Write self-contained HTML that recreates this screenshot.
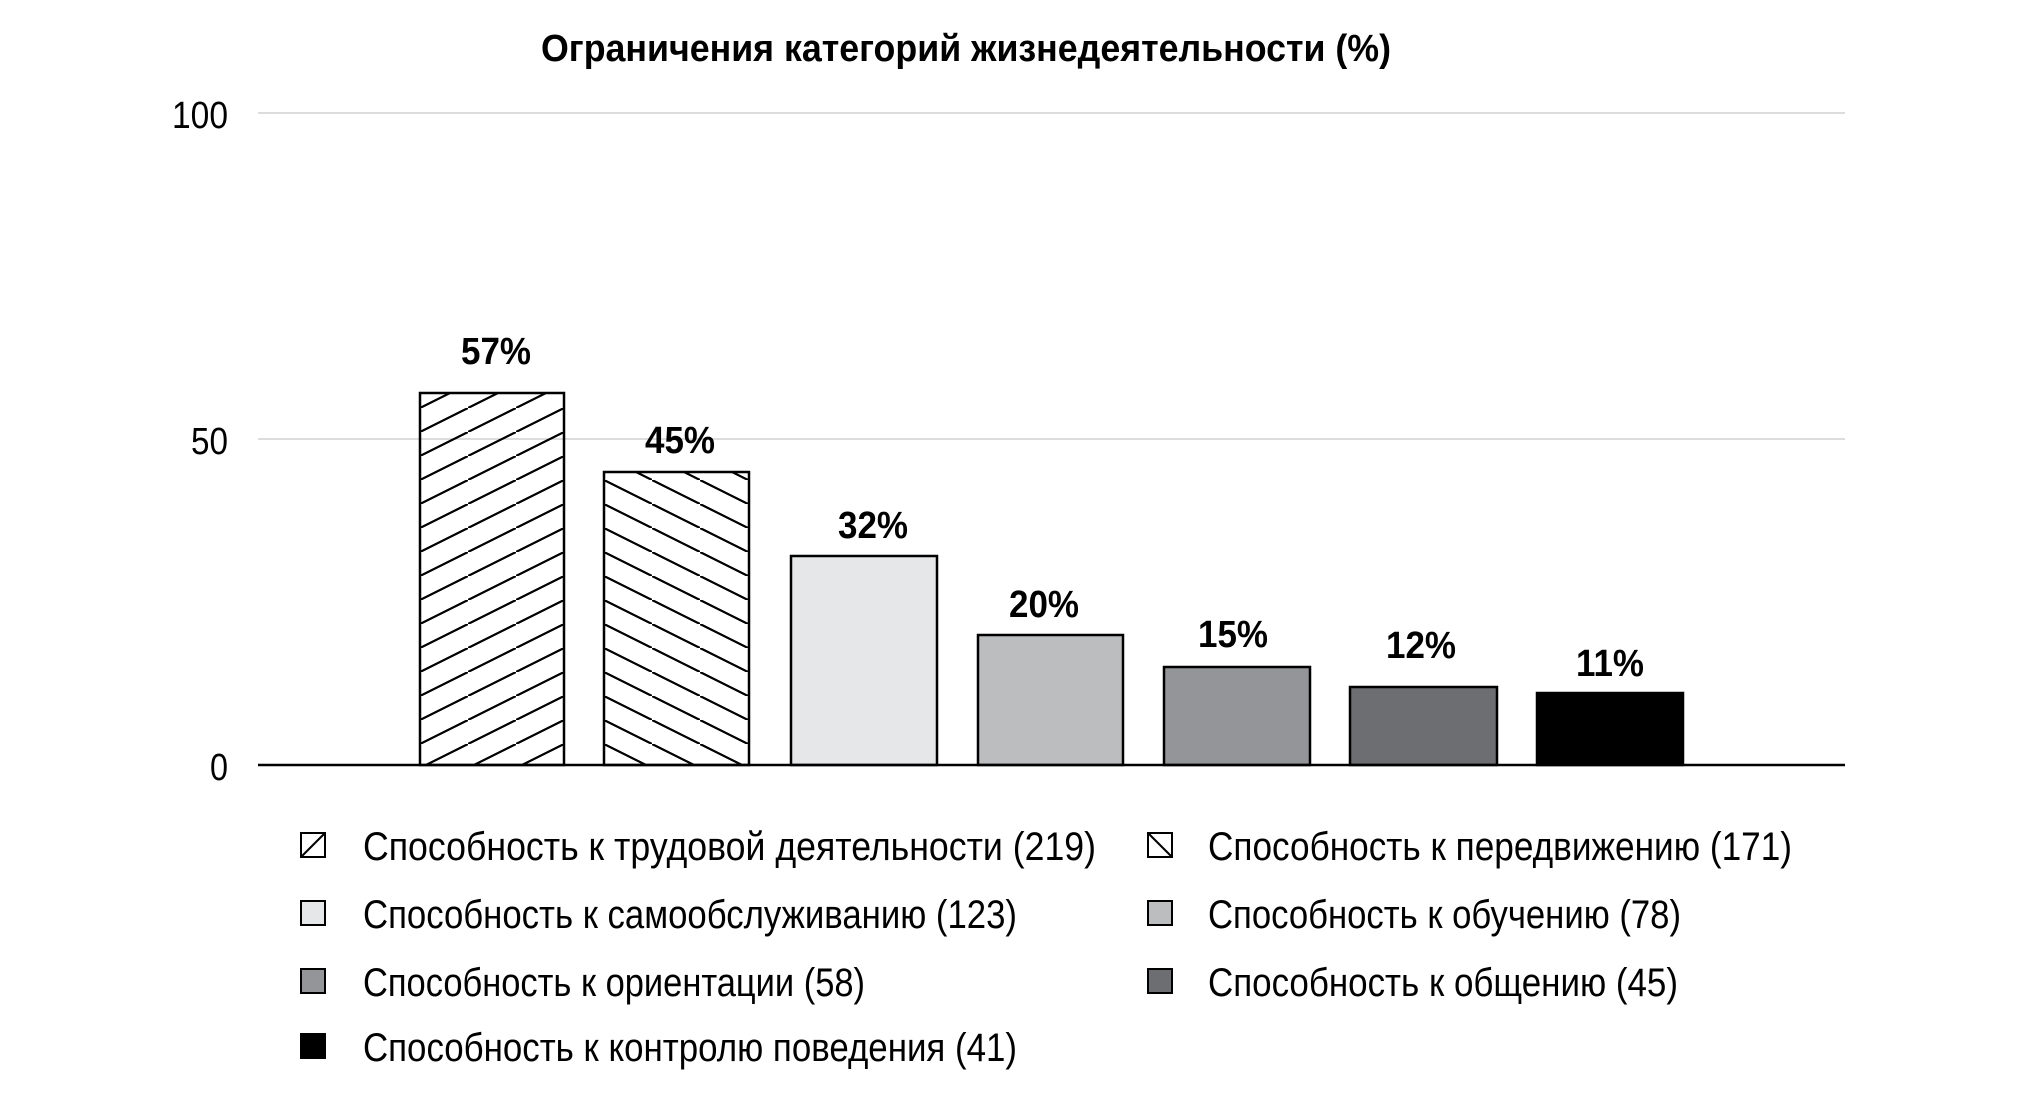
<!DOCTYPE html>
<html><head><meta charset="utf-8"><style>
html,body{margin:0;padding:0;background:#fff;}
svg{display:block;}
text{font-family:"Liberation Sans Narrow","Liberation Sans",sans-serif;fill:#000;}
</style></head><body>
<svg width="2020" height="1093" viewBox="0 0 2020 1093" xmlns="http://www.w3.org/2000/svg">
<defs>
<pattern id="h1" patternUnits="userSpaceOnUse" width="48" height="24" x="420" y="0">
<line x1="-2" y1="25" x2="50" y2="-1" stroke="#000" stroke-width="2.2"/>
</pattern>
<pattern id="h2" patternUnits="userSpaceOnUse" width="48" height="24" x="604" y="0">
<line x1="-2" y1="-1" x2="50" y2="25" stroke="#000" stroke-width="2.2"/>
</pattern>
</defs>
<text x="966" y="61" font-size="38" font-weight="bold" text-anchor="middle" textLength="850" lengthAdjust="spacingAndGlyphs">Ограничения категорий жизнедеятельности (%)</text>
<line x1="258" y1="113" x2="1845" y2="113" stroke="#d0d0d0" stroke-width="1.5"/>
<line x1="258" y1="439" x2="1845" y2="439" stroke="#d0d0d0" stroke-width="1.5"/>
<text x="228" y="128" font-size="38" text-anchor="end" textLength="56" lengthAdjust="spacingAndGlyphs">100</text>
<text x="228" y="454" font-size="38" text-anchor="end" textLength="37" lengthAdjust="spacingAndGlyphs">50</text>
<text x="228" y="780" font-size="38" text-anchor="end" textLength="18" lengthAdjust="spacingAndGlyphs">0</text>
<g stroke="#000" stroke-width="2.5">
<rect x="420" y="393" width="144" height="372" fill="url(#h1)"/>
<rect x="604" y="472" width="145" height="293" fill="url(#h2)"/>
<rect x="791" y="556" width="146" height="209" fill="#e6e7e8"/>
<rect x="978" y="635" width="145" height="130" fill="#bcbdbf"/>
<rect x="1164" y="667" width="146" height="98" fill="#939598"/>
<rect x="1350" y="687" width="147" height="78" fill="#6d6e71"/>
<rect x="1537" y="693" width="146" height="72" fill="#000"/>
</g>
<line x1="258" y1="765" x2="1845" y2="765" stroke="#000" stroke-width="2.5"/>
<g font-size="38" font-weight="bold" text-anchor="middle">
<text x="496" y="364" textLength="70" lengthAdjust="spacingAndGlyphs">57%</text>
<text x="680" y="453" textLength="70" lengthAdjust="spacingAndGlyphs">45%</text>
<text x="873" y="538" textLength="70" lengthAdjust="spacingAndGlyphs">32%</text>
<text x="1044" y="617" textLength="70" lengthAdjust="spacingAndGlyphs">20%</text>
<text x="1233" y="647" textLength="70" lengthAdjust="spacingAndGlyphs">15%</text>
<text x="1421" y="658" textLength="70" lengthAdjust="spacingAndGlyphs">12%</text>
<text x="1610" y="676" textLength="68" lengthAdjust="spacingAndGlyphs">11%</text>
</g>
<g stroke="#000" stroke-width="2">
<rect x="301" y="833" width="24" height="24" fill="#fff"/>
<line x1="301" y1="857" x2="325" y2="833"/>
<rect x="1148" y="833" width="24" height="24" fill="#fff"/>
<line x1="1148" y1="833" x2="1172" y2="857"/>
<rect x="301" y="901" width="24" height="24" fill="#e6e7e8"/>
<rect x="1148" y="901" width="24" height="24" fill="#bcbdbf"/>
<rect x="301" y="969" width="24" height="24" fill="#939598"/>
<rect x="1148" y="969" width="24" height="24" fill="#6d6e71"/>
<rect x="301" y="1034" width="24" height="24" fill="#000"/>
</g>
<g font-size="40">
<text x="363" y="860" textLength="733" lengthAdjust="spacingAndGlyphs">Способность к трудовой деятельности (219)</text>
<text x="1208" y="860" textLength="584" lengthAdjust="spacingAndGlyphs">Способность к передвижению (171)</text>
<text x="363" y="928" textLength="654" lengthAdjust="spacingAndGlyphs">Способность к самообслуживанию (123)</text>
<text x="1208" y="928" textLength="473" lengthAdjust="spacingAndGlyphs">Способность к обучению (78)</text>
<text x="363" y="996" textLength="502" lengthAdjust="spacingAndGlyphs">Способность к ориентации (58)</text>
<text x="1208" y="996" textLength="470" lengthAdjust="spacingAndGlyphs">Способность к общению (45)</text>
<text x="363" y="1061" textLength="654" lengthAdjust="spacingAndGlyphs">Способность к контролю поведения (41)</text>
</g>
</svg>
</body></html>
